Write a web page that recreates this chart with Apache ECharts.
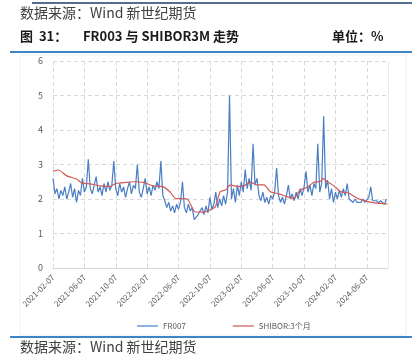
<!DOCTYPE html>
<html>
<head>
<meta charset="utf-8">
<script src="https://cdn.jsdelivr.net/npm/echarts@6/dist/echarts.min.js"></script>
<style>html,body{margin:0;padding:0;background:#fff}#c{width:419px;height:357px}</style>
</head>
<body>
<div id="c"></div>
<script>
// x positions are months since 2021-02-07
var xTickLabels = ['2021-02-07','2021-06-07','2021-10-07','2022-02-07','2022-06-07','2022-10-07','2023-02-07','2023-06-07','2023-10-07','2024-02-07','2024-06-07'];
var fr007StepMonths = 0.25;
var fr007Values = [
 2.6,2.15,2.3,2.0,2.25,2.1,2.35,2.0,2.2,2.45,2.05,2.3,1.9,2.25,2.1,2.6,
 2.2,2.35,3.15,2.3,2.15,2.4,2.65,2.2,2.35,2.1,2.45,2.2,2.5,2.25,2.4,3.1,
 2.3,2.1,2.45,2.2,2.35,2.05,2.3,2.5,2.15,2.4,2.3,3.0,2.2,2.05,2.3,2.6,
 2.15,2.35,2.1,2.4,2.25,2.5,2.3,3.1,2.1,1.95,1.75,1.9,1.65,1.8,1.6,1.85,
 1.7,1.9,2.5,1.75,1.6,1.85,1.65,1.75,1.4,1.45,1.55,1.5,1.75,1.55,1.8,1.6,
 2.05,1.7,1.85,2.2,1.75,2.0,1.8,2.1,1.85,2.2,5.0,2.0,2.3,1.9,2.4,2.1,
 2.5,2.2,2.85,2.3,2.6,2.25,3.6,2.4,2.6,2.1,1.95,2.2,1.9,2.05,1.85,2.1,
 2.0,2.2,2.9,2.1,1.9,2.05,1.85,2.1,2.4,2.0,2.15,1.95,2.2,2.0,2.3,2.1,
 2.35,2.8,2.2,2.4,2.1,2.45,2.3,3.6,2.2,2.45,4.4,2.3,2.55,2.0,2.3,1.9,
 2.2,2.0,2.25,2.05,2.3,2.1,2.45,2.0,1.95,1.9,2.0,1.9,1.95,1.9,2.0,1.9,
 1.95,2.05,2.35,1.95,1.9,1.95,1.88,1.95,1.9,1.85,2.0
];
var shiborMonths = [0,0.7,1.75,3.0,3.7,4.7,6.0,7.3,7.9,9.4,10.2,11.5,12.8,14.0,14.9,15.6,17.1,18.1,19.2,20.0,20.7,21.3,22.0,22.6,23.5,24.3,25.2,26.0,26.9,27.7,28.8,29.8,30.7,31.5,32.4,33.2,34.1,34.4,34.9,35.8,36.7,37.7,38.8,40.0,41.3,42.6];
var shiborValues = [2.80,2.84,2.67,2.58,2.46,2.44,2.38,2.36,2.44,2.48,2.50,2.48,2.38,2.36,2.21,2.02,2.00,1.63,1.62,1.68,1.78,2.21,2.26,2.41,2.36,2.38,2.49,2.41,2.41,2.21,2.15,2.07,2.02,2.26,2.34,2.48,2.51,2.60,2.51,2.38,2.21,2.17,2.02,1.93,1.88,1.86];
var yTicks = {min:0, max:6, interval:1};

var frData = fr007Values.map(function(v,i){return [i*fr007StepMonths, v];});
var shData = shiborValues.map(function(v,i){return [shiborMonths[i], v];});

var chart = echarts.init(document.getElementById('c'));
var txt = '#595959';
var cjk = '"Noto Sans CJK SC", "Noto Sans", sans-serif';
chart.setOption({
  animation:false,
  backgroundColor:'#fff',
  textStyle:{fontFamily:cjk},
  grid:{left:53, right:31, top:61, bottom:89, containLabel:false},
  legend:{
    top:317, left:132, itemGap:47, itemWidth:21, itemHeight:2,
    icon:'rect',
    textStyle:{fontSize:8, color:txt, fontFamily:cjk},
    data:['FR007','SHIBOR:3个月']
  },
  xAxis:{
    type:'value', min:0, max:42.7, interval:4,
    axisLine:{show:true, lineStyle:{color:'#d9d9d9'}},
    axisTick:{show:false},
    axisLabel:{rotate:45, fontSize:8, color:txt, margin:8, showMaxLabel:false,
      formatter:function(v){var k=Math.round(v/4); return xTickLabels[k]||'';}},
    splitLine:{show:true, lineStyle:{color:'#d9d9d9', type:[4,3]}}
  },
  yAxis:[{
    type:'value', min:yTicks.min, max:yTicks.max, interval:yTicks.interval,
    axisLine:{show:false}, axisTick:{show:false},
    axisLabel:{fontSize:9, color:txt, margin:10},
    splitLine:{show:true, lineStyle:{color:'#d9d9d9', type:[4,3]}}
  },{
    type:'value', min:yTicks.min, max:yTicks.max, interval:yTicks.interval, position:'right',
    axisLine:{show:true, lineStyle:{color:'#ecebe0'}}, axisTick:{show:false},
    axisLabel:{show:false}, splitLine:{show:false}
  }],
  series:[
    {name:'FR007', type:'line', data:frData, showSymbol:false, symbol:'none',
     lineStyle:{width:1.2, color:'#4a7ec4'}, itemStyle:{color:'#8fb3e0'}, z:2},
    {name:'SHIBOR:3个月', type:'line', data:shData, showSymbol:false, symbol:'none', smooth:0.2,
     lineStyle:{width:1.2, color:'#d05a55'}, itemStyle:{color:'#e09a98'}, z:3}
  ],
  graphic:[
    {type:'line', shape:{x1:32,y1:3,x2:412,y2:3}, style:{stroke:'#1f3b6e', lineWidth:1.5}},
    {type:'text', left:20, top:6, style:{text:'数据来源：Wind 新世纪期货', font:'14px '+cjk, fill:'#404040'}},
    {type:'text', left:20, top:30, style:{text:'图  31：', font:'bold 13px '+cjk, fill:'#1a1a1a'}},
    {type:'text', left:83, top:30, style:{text:'FR003 与 SHIBOR3M 走势', font:'bold 13px '+cjk, fill:'#1a1a1a'}},
    {type:'text', left:332, top:30, style:{text:'单位：%', font:'bold 13px '+cjk, fill:'#1a1a1a'}},
    {type:'line', shape:{x1:10,y1:52,x2:412,y2:52}, style:{stroke:'#3d85c6', lineWidth:2}},
    {type:'rect', shape:{x:20,y:55,width:386,height:280}, style:{fill:'none', stroke:'#f0f0f0', lineWidth:1}, silent:true},
    {type:'line', shape:{x1:10,y1:337,x2:412,y2:337}, style:{stroke:'#3d85c6', lineWidth:2}},
    {type:'text', left:20, top:340, style:{text:'数据来源：Wind 新世纪期货', font:'14px '+cjk, fill:'#404040'}}
  ]
});
</script>
</body>
</html>
